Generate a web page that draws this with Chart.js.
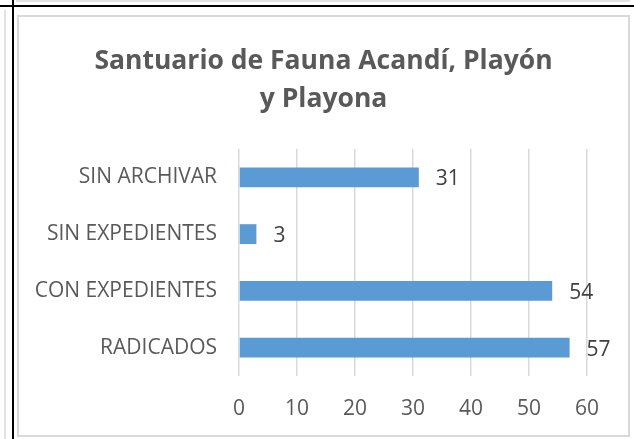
<!DOCTYPE html>
<html>
<head>
<meta charset="utf-8">
<script src="https://cdn.jsdelivr.net/npm/chart.js@4/dist/chart.umd.min.js"></script>
<style>
  html, body { margin: 0; padding: 0; background: #fff; }
  body { width: 634px; height: 439px; position: relative; overflow: hidden; }
  .ln { position: absolute; }
  #box { position: absolute; left: 17px; top: 15px; width: 613px; height: 422px;
         border: 2px solid #d9d9d9; box-sizing: border-box; background: #fff; }
  #box canvas { display: block; }
</style>
</head>
<body>
<div class="ln" style="left:4px;top:10px;width:2px;height:429px;background:#e2e2e2"></div>
<div class="ln" style="left:16px;top:0;width:614px;height:2px;background:#e2e2e2"></div>
<div class="ln" style="left:0;top:5px;width:634px;height:2px;background:#000"></div>
<div class="ln" style="left:12px;top:0;width:2px;height:439px;background:#000"></div>
<div id="box"><canvas id="chart" width="609" height="418"></canvas></div>
<script>
// Santuario de Fauna Acandí — horizontal bars, Excel-style

const TITLE = ['Santuario de Fauna Acandí, Playón', 'y Playona'];
const CATEGORIES = ['SIN ARCHIVAR', 'SIN EXPEDIENTES', 'CON EXPEDIENTES', 'RADICADOS'];
const VALUES = [31, 3, 54, 57];
const X_TICKS = [0, 10, 20, 30, 40, 50, 60];

const FONT = '"Open Sans", Lato, sans-serif';

// title centred on the whole canvas (Chart.js would centre it on the padded box)
const centredTitle = {
  id: 'centredTitle',
  afterDraw(chart) {
    const { ctx, width } = chart;
    ctx.save();
    ctx.font = 'bold 26.5px ' + FONT;
    ctx.fillStyle = '#595959';
    ctx.textAlign = 'center';
    ctx.textBaseline = 'alphabetic';
    ctx.fillText(TITLE[0], width / 2, 52);
    ctx.fillText(TITLE[1], width / 2, 90);
    ctx.restore();
  }
};

// value labels to the right of each bar
const barLabels = {
  id: 'barLabels',
  afterDatasetsDraw(chart) {
    const { ctx } = chart;
    const meta = chart.getDatasetMeta(0);
    ctx.save();
    ctx.font = '21px ' + FONT;
    ctx.fillStyle = '#404040';
    ctx.textAlign = 'left';
    ctx.textBaseline = 'middle';
    meta.data.forEach((bar, i) => {
      ctx.fillText(String(VALUES[i]), bar.x + 17, bar.y + 2);
    });
    ctx.restore();
  }
};

new Chart(document.getElementById('chart'), {
  type: 'bar',
  data: {
    labels: CATEGORIES,
    datasets: [{
      data: VALUES,
      backgroundColor: '#5b9bd5',
      borderWidth: 0,
      barPercentage: 0.35,
      categoryPercentage: 1,
    }]
  },
  options: {
    indexAxis: 'y',
    responsive: false,
    animation: false,
    layout: { padding: { left: 0, right: 41, top: 132, bottom: 14 } },
    scales: {
      x: {
        min: 0, max: 60,
        afterBuildTicks: axis => { axis.ticks = X_TICKS.map(v => ({ value: v })); },
        afterFit: axis => { axis.height = 45; },
        grid: { color: '#d9d9d9', lineWidth: 1.5, drawTicks: false },
        border: { display: false },
        ticks: { color: '#595959', padding: 20, font: { family: FONT, size: 21 } }
      },
      y: {
        afterFit: axis => { axis.width = 220; },
        grid: { display: false, drawTicks: false },
        border: { display: false },
        ticks: { color: '#595959', padding: 22, font: { family: FONT, size: 21 } }
      }
    },
    plugins: {
      legend: { display: false },
      tooltip: { enabled: false },
      title: { display: false }
    }
  },
  plugins: [barLabels, centredTitle]
});
</script>
</body>
</html>
